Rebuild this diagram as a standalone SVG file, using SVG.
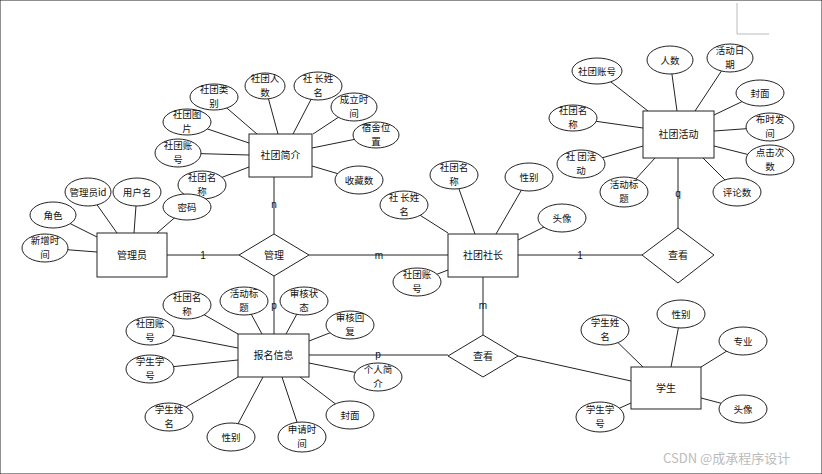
<svg xmlns="http://www.w3.org/2000/svg" width="822" height="474" viewBox="0 0 822 474">
<style>
text{font-family:"Noto Sans CJK SC","Liberation Sans",sans-serif;font-size:10px;fill:#111;text-anchor:middle}
.at text{font-size:9.5px}
.lb{font-family:"Liberation Sans",sans-serif;font-size:10px}
.wm{font-size:13px;fill:#bbb;text-anchor:start}
ellipse,rect,polygon{fill:#fff;stroke:#222;stroke-width:1}
line{stroke:#222;stroke-width:1}
.corner{stroke:#bbb;fill:none}
</style>
<rect width="822" height="474" fill="#fff" stroke="none"/>
<path class="corner" d="M737 3V34H769"/>
<g id="connectors">
<line x1="167" y1="255" x2="239" y2="255"/>
<line x1="309" y1="255" x2="448" y2="255"/>
<line x1="518" y1="255" x2="642" y2="255"/>
<line x1="678" y1="228" x2="678" y2="158"/>
<line x1="274" y1="234" x2="274" y2="177"/>
<line x1="274" y1="276" x2="274" y2="334"/>
<line x1="483" y1="277" x2="483" y2="335"/>
<line x1="309" y1="355" x2="448" y2="355"/>
<line x1="518" y1="356" x2="631" y2="381"/>
<line x1="214" y1="97" x2="257" y2="134"/>
<line x1="265" y1="86" x2="278" y2="134"/>
<line x1="318" y1="86" x2="293" y2="134"/>
<line x1="354" y1="107" x2="313" y2="134"/>
<line x1="376" y1="135" x2="312" y2="148"/>
<line x1="359" y1="180" x2="312" y2="166"/>
<line x1="187" y1="122" x2="249" y2="143"/>
<line x1="178" y1="153" x2="249" y2="155"/>
<line x1="202" y1="185" x2="249" y2="167"/>
<line x1="187" y1="207" x2="157" y2="233"/>
<line x1="88" y1="192" x2="117" y2="233"/>
<line x1="137" y1="192" x2="134" y2="233"/>
<line x1="53" y1="215" x2="97" y2="237"/>
<line x1="45" y1="248" x2="97" y2="252"/>
<line x1="454" y1="175" x2="475" y2="234"/>
<line x1="529" y1="177" x2="496" y2="234"/>
<line x1="404" y1="205" x2="448" y2="233"/>
<line x1="562" y1="218" x2="518" y2="240"/>
<line x1="417" y1="282" x2="448" y2="270"/>
<line x1="597" y1="71" x2="648" y2="111"/>
<line x1="670" y1="60" x2="677" y2="111"/>
<line x1="730" y1="58" x2="695" y2="111"/>
<line x1="760" y1="93" x2="714" y2="115"/>
<line x1="770" y1="127" x2="714" y2="131"/>
<line x1="770" y1="160" x2="714" y2="146"/>
<line x1="737" y1="192" x2="703" y2="158"/>
<line x1="573" y1="118" x2="643" y2="128"/>
<line x1="581" y1="164" x2="643" y2="146"/>
<line x1="624" y1="192" x2="655" y2="158"/>
<line x1="187" y1="305" x2="238" y2="334"/>
<line x1="244" y1="301" x2="262" y2="334"/>
<line x1="304" y1="301" x2="286" y2="334"/>
<line x1="350" y1="325" x2="309" y2="341"/>
<line x1="150" y1="331" x2="238" y2="348"/>
<line x1="150" y1="369" x2="238" y2="360"/>
<line x1="169" y1="417" x2="238" y2="377"/>
<line x1="231" y1="437" x2="263" y2="377"/>
<line x1="302" y1="437" x2="282" y2="377"/>
<line x1="350" y1="415" x2="300" y2="377"/>
<line x1="378" y1="377" x2="309" y2="363"/>
<line x1="605" y1="330" x2="643" y2="367"/>
<line x1="681" y1="314" x2="671" y2="367"/>
<line x1="743" y1="341" x2="701" y2="367"/>
<line x1="743" y1="409" x2="701" y2="398"/>
<line x1="600" y1="417" x2="631" y2="403"/>
<text class="lb" x="203" y="259">1</text>
<text class="lb" x="379" y="259">m</text>
<text class="lb" x="580" y="259">1</text>
<text class="lb" x="678" y="197">q</text>
<text class="lb" x="274" y="208">n</text>
<text class="lb" x="274" y="309">p</text>
<text class="lb" x="483" y="309">m</text>
<text class="lb" x="378" y="358">p</text>
</g>
<g id="e-shetuanjianjie"><rect x="249" y="134" width="63" height="43"/><text x="280.5" y="159">社团简介</text></g>
<g id="e-shetuanhuodong"><rect x="643" y="111" width="71" height="47"/><text x="678.5" y="138">社团活动</text></g>
<g id="e-guanliyuan"><rect x="97" y="233" width="70" height="44"/><text x="132" y="259">管理员</text></g>
<g id="e-shetuansheshang"><rect x="448" y="234" width="70" height="43"/><text x="483" y="259">社团社长</text></g>
<g id="e-baomingxinxi"><rect x="238" y="334" width="71" height="43"/><text x="273.5" y="359">报名信息</text></g>
<g id="e-xuesheng"><rect x="631" y="367" width="70" height="42"/><text x="666" y="392">学生</text></g>
<g id="r-guanli"><polygon points="239,255 274,234 309,255 274,276"/><text x="274" y="259">管理</text></g>
<g id="r-chakan1"><polygon points="642,255 678,228 714,255 678,283"/><text x="678" y="259">查看</text></g>
<g id="r-chakan2"><polygon points="448,356 483,335 518,356 483,377"/><text x="483" y="360">查看</text></g>
<g class="at">
<g id="a1"><ellipse cx="214" cy="97" rx="24" ry="13"/><text x="214" y="93">社团类</text><text x="214" y="107">别</text></g>
<g id="a2"><ellipse cx="265" cy="86" rx="20" ry="13"/><text x="265" y="82">社团人</text><text x="265" y="96">数</text></g>
<g id="a3"><ellipse cx="318" cy="86" rx="24" ry="14"/><text x="318" y="82">社 长姓</text><text x="318" y="96">名</text></g>
<g id="a4"><ellipse cx="354" cy="107" rx="23" ry="14"/><text x="354" y="103">成立时</text><text x="354" y="117">间</text></g>
<g id="a5"><ellipse cx="376" cy="135" rx="23" ry="13"/><text x="376" y="131">宿舍位</text><text x="376" y="145">置</text></g>
<g id="a6"><ellipse cx="359" cy="180" rx="24" ry="14"/><text x="359" y="184">收藏数</text></g>
<g id="a7"><ellipse cx="187" cy="122" rx="24" ry="13"/><text x="187" y="118">社团图</text><text x="187" y="132">片</text></g>
<g id="a8"><ellipse cx="178" cy="153" rx="23" ry="14"/><text x="178" y="149">社团账</text><text x="178" y="163">号</text></g>
<g id="a9"><ellipse cx="202" cy="185" rx="24" ry="14"/><text x="202" y="181">社团名</text><text x="202" y="195">称</text></g>
<g id="a10"><ellipse cx="187" cy="207" rx="24" ry="13"/><text x="187" y="211">密码</text></g>
<g id="a11"><ellipse cx="88" cy="192" rx="23" ry="14"/><text x="88" y="196">管理员id</text></g>
<g id="a12"><ellipse cx="137" cy="192" rx="24" ry="14"/><text x="137" y="196">用户名</text></g>
<g id="a13"><ellipse cx="53" cy="215" rx="23" ry="13"/><text x="53" y="219">角色</text></g>
<g id="a14"><ellipse cx="45" cy="248" rx="23" ry="14"/><text x="45" y="244">新增时</text><text x="45" y="258">间</text></g>
<g id="a15"><ellipse cx="454" cy="175" rx="24" ry="14"/><text x="454" y="171">社团名</text><text x="454" y="185">称</text></g>
<g id="a16"><ellipse cx="529" cy="177" rx="24" ry="14"/><text x="529" y="181">性别</text></g>
<g id="a17"><ellipse cx="404" cy="205" rx="24" ry="14"/><text x="404" y="201">社 长姓</text><text x="404" y="215">名</text></g>
<g id="a18"><ellipse cx="562" cy="218" rx="24" ry="14"/><text x="562" y="222">头像</text></g>
<g id="a19"><ellipse cx="417" cy="282" rx="24" ry="14"/><text x="417" y="278">社团账</text><text x="417" y="292">号</text></g>
<g id="a20"><ellipse cx="597" cy="71" rx="25" ry="13"/><text x="597" y="75">社团账号</text></g>
<g id="a21"><ellipse cx="670" cy="60" rx="23" ry="14"/><text x="670" y="64">人数</text></g>
<g id="a22"><ellipse cx="730" cy="58" rx="23" ry="14"/><text x="730" y="54">活动日</text><text x="730" y="68">期</text></g>
<g id="a23"><ellipse cx="760" cy="93" rx="24" ry="13"/><text x="760" y="97">封面</text></g>
<g id="a24"><ellipse cx="770" cy="127" rx="24" ry="14"/><text x="770" y="123">布时发</text><text x="770" y="137">间</text></g>
<g id="a25"><ellipse cx="770" cy="160" rx="24" ry="15"/><text x="770" y="156">点击次</text><text x="770" y="170">数</text></g>
<g id="a26"><ellipse cx="737" cy="192" rx="24" ry="14"/><text x="737" y="196">评论数</text></g>
<g id="a27"><ellipse cx="573" cy="118" rx="24" ry="13"/><text x="573" y="114">社团名</text><text x="573" y="128">称</text></g>
<g id="a28"><ellipse cx="581" cy="164" rx="24" ry="14"/><text x="581" y="160">社 团活</text><text x="581" y="174">动</text></g>
<g id="a29"><ellipse cx="624" cy="192" rx="24" ry="15"/><text x="624" y="188">活动标</text><text x="624" y="202">题</text></g>
<g id="a30"><ellipse cx="187" cy="305" rx="24" ry="14"/><text x="187" y="301">社团名</text><text x="187" y="315">称</text></g>
<g id="a31"><ellipse cx="244" cy="301" rx="24" ry="14"/><text x="244" y="297">活动标</text><text x="244" y="311">题</text></g>
<g id="a32"><ellipse cx="304" cy="301" rx="24" ry="14"/><text x="304" y="297">审核状</text><text x="304" y="311">态</text></g>
<g id="a33"><ellipse cx="350" cy="325" rx="24" ry="14"/><text x="350" y="321">审核回</text><text x="350" y="335">复</text></g>
<g id="a34"><ellipse cx="150" cy="331" rx="24" ry="14"/><text x="150" y="327">社团账</text><text x="150" y="341">号</text></g>
<g id="a35"><ellipse cx="150" cy="369" rx="24" ry="14"/><text x="150" y="365">学生学</text><text x="150" y="379">号</text></g>
<g id="a36"><ellipse cx="169" cy="417" rx="24" ry="14"/><text x="169" y="413">学生姓</text><text x="169" y="427">名</text></g>
<g id="a37"><ellipse cx="231" cy="437" rx="24" ry="14"/><text x="231" y="441">性别</text></g>
<g id="a38"><ellipse cx="302" cy="437" rx="24" ry="15"/><text x="302" y="433">申请时</text><text x="302" y="447">间</text></g>
<g id="a39"><ellipse cx="350" cy="415" rx="24" ry="14"/><text x="350" y="419">封面</text></g>
<g id="a40"><ellipse cx="378" cy="377" rx="24" ry="14"/><text x="378" y="373">个人简</text><text x="378" y="387">介</text></g>
<g id="a41"><ellipse cx="605" cy="330" rx="24" ry="15"/><text x="605" y="326">学生姓</text><text x="605" y="340">名</text></g>
<g id="a42"><ellipse cx="681" cy="314" rx="24" ry="14"/><text x="681" y="318">性别</text></g>
<g id="a43"><ellipse cx="743" cy="341" rx="24" ry="14"/><text x="743" y="345">专业</text></g>
<g id="a44"><ellipse cx="743" cy="409" rx="24" ry="14"/><text x="743" y="413">头像</text></g>
<g id="a45"><ellipse cx="600" cy="417" rx="24" ry="15"/><text x="600" y="413">学生学</text><text x="600" y="427">号</text></g>
</g>
<text class="wm" x="663" y="463">CSDN @成承程序设计</text>
</svg>
